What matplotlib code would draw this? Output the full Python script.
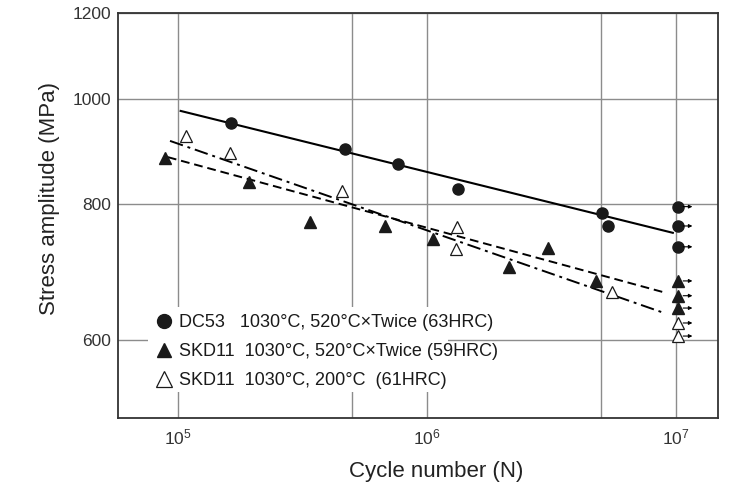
import matplotlib
matplotlib.use("Agg")
import matplotlib.pyplot as plt
from matplotlib.ticker import FixedLocator, NullFormatter, FixedFormatter
from matplotlib.lines import Line2D
from matplotlib.patches import Rectangle

plt.rcParams['font.family'] = ['Liberation Sans', 'DejaVu Sans']
plt.rcParams['mathtext.fontset'] = 'custom'
plt.rcParams['mathtext.rm'] = 'Liberation Sans'

# DC53 1030°C, 520°C x Twice (63HRC)
dc53_n = [1.63e5, 4.68e5, 7.65e5, 1.33e6, 5.03e6, 5.32e6]
dc53_s = [951, 899, 871, 827, 786, 764]
dc53_run_s = [796, 764, 731]

# SKD11 1030°C, 520°C x Twice (59HRC)
skd_t_n = [8.87e4, 1.93e5, 3.39e5, 6.78e5, 1.057e6, 2.13e6, 3.06e6, 4.76e6]
skd_t_s = [882, 839, 771, 764, 743, 701, 729, 680]
skd_t_run_s = [680, 659, 642]

# SKD11 1030°C, 200°C (61HRC)
skd_l_n = [1.08e5, 1.62e5, 4.56e5, 1.32e6, 1.31e6, 5.53e6]
skd_l_s = [925, 892, 823, 762, 728, 664]
skd_l_run_s = [622, 605]

runout_n = 1.02e7

# fitted S-N lines (endpoints)
dc53_fit_n = [1.025e5, 9.72e6]
dc53_fit_s = [975, 753]
skd_t_fit_n = [9.11e4, 9.12e6]
skd_t_fit_s = [884, 663]
skd_l_fit_n = [9.29e4, 9.03e6]
skd_l_fit_s = [915, 635]

legend_labels = ["DC53   1030°C, 520°C×Twice (63HRC)",
                 "SKD11  1030°C, 520°C×Twice (59HRC)",
                 "SKD11  1030°C, 200°C  (61HRC)"]

y_ticks = [600, 800, 1000, 1200]
x_ticks = [1e5, 1e6, 1e7]
x_grid_minor = [5e5, 5e6]

fig = plt.figure(figsize=(7.42, 4.88), dpi=100)
ax = fig.add_axes([0.159, 0.1434, 0.8086, 0.83])
ax.set_xscale('log')
ax.set_yscale('log')
ax.set_xlim(10**4.759, 10**7.169)
ax.set_ylim(508.5, 1200)

mk = '#1a1a1a'
ax.plot(dc53_fit_n, dc53_fit_s, '-', color='k', lw=1.5, zorder=3)
ax.plot(skd_t_fit_n, skd_t_fit_s, color='k', lw=1.4, ls=(0, (4.5, 2.5)), zorder=3)
ax.plot(skd_l_fit_n, skd_l_fit_s, color='k', lw=1.4, ls=(0, (7, 2.5, 1.5, 2.5)), zorder=3)

ms = 8
ax.plot(dc53_n, dc53_s, 'o', color=mk, ms=ms, ls='none', zorder=4)
ax.plot([runout_n]*len(dc53_run_s), dc53_run_s, 'o', color=mk, ms=ms, ls='none', zorder=4)
ax.plot(skd_t_n, skd_t_s, '^', color=mk, ms=ms, ls='none', zorder=4)
ax.plot([runout_n]*len(skd_t_run_s), skd_t_run_s, '^', color=mk, ms=ms, ls='none', zorder=4)
ax.plot(skd_l_n, skd_l_s, '^', mfc='white', mec=mk, mew=0.9, ms=ms + 1, ls='none', zorder=4)
ax.plot([runout_n]*len(skd_l_run_s), skd_l_run_s, '^', mfc='white', mec=mk, mew=0.9,
        ms=ms + 1, ls='none', zorder=4)

for s in dc53_run_s + skd_t_run_s + skd_l_run_s:
    ax.annotate('', xy=(1.165e7, s), xytext=(1.07e7, s),
                arrowprops=dict(arrowstyle='-|>', lw=0.8, color='k',
                                mutation_scale=5, shrinkA=0, shrinkB=0), zorder=5)

# ticks and grid
ax.xaxis.set_major_locator(FixedLocator(x_ticks))
ax.xaxis.set_minor_locator(FixedLocator(x_grid_minor))
ax.xaxis.set_minor_formatter(NullFormatter())
ax.yaxis.set_major_locator(FixedLocator(y_ticks))
ax.yaxis.set_major_formatter(FixedFormatter([str(v) for v in y_ticks]))
ax.yaxis.set_minor_locator(FixedLocator([]))
ax.tick_params(which='both', length=0, labelsize=12.5, labelcolor='#333333')
ax.tick_params(axis='x', pad=7)
ax.tick_params(axis='y', pad=5)
ax.grid(True, which='both', color='#8c8c8c', lw=1.0, zorder=1)
ax.set_axisbelow(True)
for sp in ax.spines.values():
    sp.set_color('#333333')
    sp.set_linewidth(1.3)

ax.set_xlabel('Cycle number (N)', fontsize=16, color='#222222', labelpad=10)
ax.set_ylabel('Stress amplitude (MPa)', fontsize=16, color='#222222', labelpad=9)
ax.xaxis.set_label_coords(0.531, -0.107, transform=ax.transAxes)
ax.xaxis.label.set_verticalalignment('top')
ax.yaxis.label.set_position((0, 0.542))

# white backdrop behind legend (hides gridlines there)
ax.add_patch(Rectangle((0.05, 0.064), 0.50, 0.21, transform=ax.transAxes,
                       facecolor='white', edgecolor='none', zorder=2))

handles = [Line2D([], [], marker='o', color=mk, ls='none', ms=10),
           Line2D([], [], marker='^', color=mk, ls='none', ms=10),
           Line2D([], [], marker='^', mfc='white', mec=mk, mew=0.9, ls='none', ms=11)]
leg = ax.legend(handles, legend_labels, loc='lower left', bbox_to_anchor=(0.04, 0.035),
                frameon=False, fontsize=13, handlelength=0.8, handletextpad=0.45,
                labelspacing=0.68, borderpad=0.3, labelcolor='#1a1a1a')

fig.savefig('out.png', dpi=100)
